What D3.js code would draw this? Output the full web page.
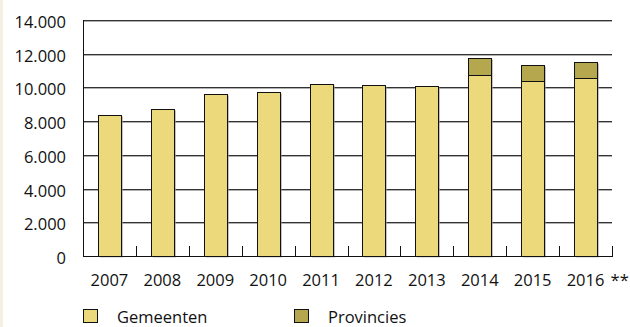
<!DOCTYPE html>
<html>
<head>
<meta charset="utf-8">
<script src="https://cdn.jsdelivr.net/npm/d3@7"></script>
<style>
  body { margin: 0; background: #fff; }
  svg text { font-family: "Open Sans", sans-serif; fill: #111; }
</style>
</head>
<body>
<script>
var width = 630;
var height = 327;

var years = ["2007", "2008", "2009", "2010", "2011", "2012", "2013", "2014", "2015", "2016 **"];
var gemeenten = [8350, 8740, 9600, 9700, 10230, 10130, 10110, 10720, 10380, 10540];
var provincies = [0, 0, 0, 0, 0, 0, 0, 1010, 950, 970];
var seriesNames = ["Gemeenten", "Provincies"];
var yTicks = [0, 2000, 4000, 6000, 8000, 10000, 12000, 14000];

var gemColor = "#ecd97c";
var provColor = "#b5a74e";

var plotLeft = 83, plotRight = 612, plotTop = 20, plotBottom = 256;

var svg = d3.select("body").append("svg")
    .attr("width", width)
    .attr("height", height);

// cream strip on the left edge
svg.append("rect")
    .attr("x", 0).attr("y", 0)
    .attr("width", 3).attr("height", height)
    .attr("fill", "#f5f0e1");

var x = d3.scaleBand()
    .domain(years)
    .range([plotLeft, plotRight])
    .paddingInner(0.565)
    .paddingOuter(0.2825);

var xOuter = d3.scaleBand()
    .domain(years)
    .range([plotLeft, plotRight]);

var y = d3.scaleLinear()
    .domain([0, 14000])
    .range([plotBottom, plotTop]);

var fmt = function(d) {
    return d3.format(",")(d).replace(/,/g, ".");
};

// gridlines
var grid = svg.append("g");
yTicks.filter(function(d) { return d > 0; }).forEach(function(t) {
    var gy = Math.round(y(t));
    grid.append("line")
        .attr("x1", plotLeft).attr("x2", plotRight)
        .attr("y1", gy + 1.5).attr("y2", gy + 1.5)
        .attr("stroke", "#b0b0b0").attr("stroke-width", 1);
    grid.append("line")
        .attr("x1", plotLeft).attr("x2", plotRight)
        .attr("y1", gy + 0.5).attr("y2", gy + 0.5)
        .attr("stroke", "#333").attr("stroke-width", 1);
});

// y labels
svg.append("g").selectAll("text")
    .data(yTicks)
    .enter().append("text")
    .attr("x", 66)
    .attr("y", function(d) { return y(d) + 8; })
    .attr("text-anchor", "end")
    .attr("font-size", 16.5)
    .text(fmt);

// stacked bars
var stackData = years.map(function(yr, i) {
    return { year: yr, Gemeenten: gemeenten[i], Provincies: provincies[i] };
});
var stack = d3.stack().keys(seriesNames)(stackData);
var colors = [gemColor, provColor];

// shadows first
var shadow = svg.append("g");
var bars = svg.append("g");
stack.forEach(function(layer, li) {
    layer.forEach(function(d) {
        if (d[1] - d[0] <= 0) return;
        var bx = Math.round(x(d.data.year)) + 0.5;
        var by = Math.round(y(d[1])) + 0.5;
        var bh = Math.round(y(d[0])) - Math.round(y(d[1]));
        var bw = Math.round(x.bandwidth());
        shadow.append("rect")
            .attr("x", bx + 1.5).attr("y", by + 1)
            .attr("width", bw).attr("height", bh)
            .attr("fill", "#9a9a9a").attr("opacity", 0.6);
        bars.append("rect")
            .attr("x", bx).attr("y", by)
            .attr("width", bw).attr("height", bh)
            .attr("fill", colors[li])
            .attr("stroke", "#111").attr("stroke-width", 1);
    });
});

// axes lines
svg.append("line")
    .attr("x1", plotLeft + 0.5).attr("x2", plotLeft + 0.5)
    .attr("y1", plotTop).attr("y2", plotBottom + 0.5)
    .attr("stroke", "#111");
svg.append("line")
    .attr("x1", plotLeft).attr("x2", plotRight + 1)
    .attr("y1", plotBottom + 0.5).attr("y2", plotBottom + 0.5)
    .attr("stroke", "#111");

// category ticks (pointing up)
var tickPos = years.map(function(d) { return xOuter(d) + xOuter.bandwidth(); });
svg.append("g").selectAll("line")
    .data(tickPos)
    .enter().append("line")
    .attr("x1", function(d) { return Math.round(d) + 0.5; })
    .attr("x2", function(d) { return Math.round(d) + 0.5; })
    .attr("y1", plotBottom - 10).attr("y2", plotBottom)
    .attr("stroke", "#111");

// x labels
var xlabels = svg.append("g");
years.forEach(function(d) {
    var parts = d.split(" ");
    var cx = x(d) + x.bandwidth() / 2;
    xlabels.append("text")
        .attr("x", cx)
        .attr("y", 286)
        .attr("text-anchor", "middle")
        .attr("font-size", 16.5)
        .text(parts[0]);
    if (parts[1]) {
        xlabels.append("text")
            .attr("x", cx + 25)
            .attr("y", 286)
            .attr("font-size", 16.5)
            .text(parts[1]);
    }
});

// legend
var legendX = [83, 294];
seriesNames.forEach(function(name, i) {
    svg.append("rect")
        .attr("x", legendX[i] + 0.5).attr("y", 309.5)
        .attr("width", 14).attr("height", 13)
        .attr("fill", colors[i])
        .attr("stroke", "#111");
    svg.append("text")
        .attr("x", legendX[i] + 34)
        .attr("y", 323)
        .attr("font-size", 16.5)
        .text(name);
});
</script>
</body>
</html>
